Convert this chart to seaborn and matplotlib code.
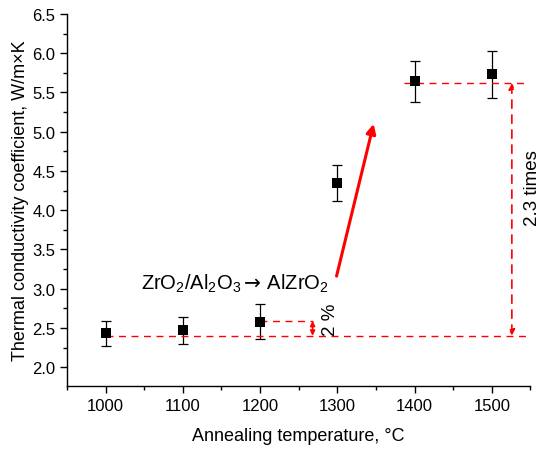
import numpy as np
import pandas as pd
import matplotlib
matplotlib.use("Agg")
import matplotlib.pyplot as plt
import seaborn as sns
from matplotlib.ticker import MultipleLocator

# data
temperature = [1000, 1100, 1200, 1300, 1400, 1500]
conductivity = [2.43, 2.47, 2.58, 4.35, 5.64, 5.73]
error = [0.16, 0.17, 0.22, 0.23, 0.26, 0.30]

low_level = 2.40
high_level = 5.62
step_level = 2.59

sns.set_theme(style="ticks")
plt.rcParams['font.family'] = ['Liberation Sans', 'DejaVu Sans']
plt.rcParams['mathtext.fontset'] = 'custom'
plt.rcParams['mathtext.rm'] = 'Liberation Sans'
plt.rcParams['mathtext.it'] = 'Liberation Sans'
plt.rcParams['mathtext.sf'] = 'DejaVu Sans'
plt.rcParams['text.color'] = 'black'
plt.rcParams['axes.labelcolor'] = 'black'
plt.rcParams['xtick.color'] = 'black'
plt.rcParams['ytick.color'] = 'black'

df = pd.DataFrame({"T": temperature, "k": conductivity, "err": error})

fig = plt.figure(figsize=(5.42, 4.52), dpi=100)
ax = fig.add_axes([0.1236, 0.1438, 0.855, 0.823])

ax.errorbar(df["T"], df["k"], yerr=df["err"], fmt="none", ecolor="black",
            elinewidth=0.9, capsize=3.5, capthick=0.9, zorder=2)
sns.scatterplot(data=df, x="T", y="k", marker="s", color="black", s=55,
                edgecolor="black", linewidth=0, ax=ax, zorder=3)

red = "#ff0000"
# reference levels
ax.plot([1000, 1545], [low_level, low_level], ls=(0, (5, 4)), color=red, lw=1)
ax.plot([1386, 1545], [high_level, high_level], ls=(0, (5, 4)), color=red, lw=1)
ax.plot([1200, 1269], [step_level, step_level], ls=(0, (5, 4)), color=red, lw=1)

# 2 % arrow
ax.annotate("", xy=(1268, low_level), xytext=(1268, step_level),
            arrowprops=dict(arrowstyle="<|-|>", color=red, lw=1.2,
                            mutation_scale=7, shrinkA=0, shrinkB=0))
ax.text(1291, 2.62, "2 %", rotation=90, ha="center", va="center", fontsize=13.5)

# 2.3 times arrow
ax.annotate("", xy=(1526, low_level), xytext=(1526, high_level),
            arrowprops=dict(arrowstyle="<|-|>", color=red, lw=1.2, ls=(0, (5, 4)),
                            mutation_scale=9, shrinkA=0, shrinkB=0))
ax.text(1553, 4.30, "2.3 times", rotation=90, ha="center", va="center", fontsize=13.5)

# transition arrow
ax.annotate("", xy=(1347, 5.10), xytext=(1299, 3.16),
            arrowprops=dict(arrowstyle="-|>", color=red, lw=2.2,
                            mutation_scale=14, shrinkA=0, shrinkB=0))
ax.text(1168, 3.07, r"ZrO$_2$/Al$_2$O$_3$$\mathsf{\rightarrow}\!$ AlZrO$_2$",
        ha="center", va="center", fontsize=14.5)

ax.set_xlim(950, 1550)
ax.set_ylim(1.76, 6.5)
ax.xaxis.set_minor_locator(MultipleLocator(50))
ax.yaxis.set_minor_locator(MultipleLocator(0.25))
ax.set_xticks(temperature)
ax.set_yticks(np.arange(2.0, 6.51, 0.5))
ax.set_yticklabels([f"{v:.1f}" for v in np.arange(2.0, 6.51, 0.5)])
ax.tick_params(which="major", length=5, width=1, labelsize=12, direction="out")
ax.tick_params(which="minor", length=3, width=1, direction="out")
for s in ["top", "right"]:
    ax.spines[s].set_visible(False)
for s in ["left", "bottom"]:
    ax.spines[s].set_linewidth(1)
    ax.spines[s].set_color("black")

ax.set_xlabel("Annealing temperature, \u00b0C", fontsize=13, labelpad=10)
ax.set_ylabel("Thermal conductivity coefficient, W/m\u00d7K", fontsize=13, labelpad=2)

fig.savefig("out.png", dpi=100)
